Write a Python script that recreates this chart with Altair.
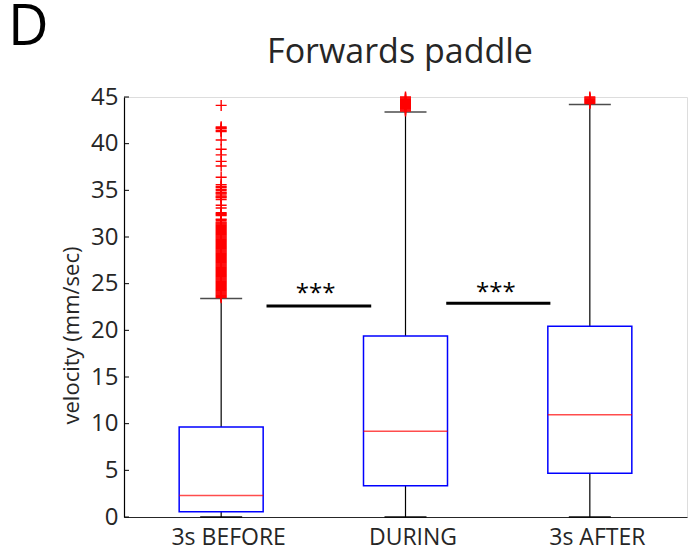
import altair as alt
import pandas as pd

# --- data -------------------------------------------------------------
groups = ["3s BEFORE", "DURING", "3s AFTER"]
positions = [1, 2, 3]

q1 = [0.55, 3.35, 4.7]
median = [2.3, 9.2, 10.95]
q3 = [9.65, 19.4, 20.45]
whisker_low = [0.0, 0.0, 0.0]
whisker_high = [23.4, 43.4, 44.2]

before_outliers = [
    44.1, 41.8, 41.7, 41.6, 41.4, 41.3, 40.4, 39.4, 38.8, 38.1, 37.6, 36.4,
    35.6, 35.4, 35.3, 35.1, 35.0, 34.8, 34.7, 34.6, 34.4, 34.3, 34.2, 34.0,
    33.4, 33.1, 32.6, 32.5, 32.4, 32.3, 31.9, 31.8, 31.6, 31.5, 31.4, 31.3,
    31.2, 31.1, 31.0, 30.9, 30.8, 30.7, 30.6, 30.5, 30.4, 30.3, 30.2, 30.1,
    30.0, 29.9, 29.8, 29.7, 29.6, 29.5, 29.4, 29.3, 29.2, 29.1, 29.0, 28.9,
    28.8, 28.7, 28.6, 28.5, 28.4, 28.3, 28.2, 28.1, 28.0, 27.9, 27.8, 27.7,
    27.6, 27.5, 27.4, 27.3, 27.2, 27.1, 27.0, 26.9, 26.8, 26.7, 26.6, 26.5,
    26.4, 26.3, 26.2, 26.1, 26.0, 25.9, 25.8, 25.7, 25.6, 25.5, 25.4, 25.3,
    25.2, 25.1, 25.0, 24.9, 24.8, 24.7, 24.6, 24.5, 24.4, 24.3, 24.2, 24.1,
    24.0, 23.9, 23.8, 23.7, 23.6, 23.5,
]
during_outliers = [43.5, 43.6, 43.7, 43.8, 43.9, 44.0, 44.1, 44.2,
                   44.3, 44.4, 44.5, 44.6, 44.7, 44.8, 44.9, 45.0]
after_outliers = [44.3, 44.4, 44.5, 44.6, 44.7, 44.8, 44.9, 45.0]

# significance brackets between neighbouring groups
sig_x_start = [1.246, 2.221]
sig_x_end = [1.814, 2.786]
sig_y = [22.6, 22.9]
sig_label_x = [1.512, 2.49]
sig_label_y = [24.6, 24.8]
sig_label = ["***", "***"]

y_ticks = [0, 5, 10, 15, 20, 25, 30, 35, 40, 45]

# --- tables -----------------------------------------------------------
boxes = pd.DataFrame({
    "group": groups, "pos": positions, "q1": q1, "median": median,
    "q3": q3, "lo": whisker_low, "hi": whisker_high,
})
outliers = pd.DataFrame({
    "pos": [1] * len(before_outliers) + [2] * len(during_outliers) + [3] * len(after_outliers),
    "value": before_outliers + during_outliers + after_outliers,
})
sig = pd.DataFrame({"x": sig_x_start, "x2": sig_x_end, "y": sig_y,
                    "lx": sig_label_x, "ly": sig_label_y, "label": sig_label})
ticks = pd.DataFrame({"v": y_ticks})

FONT = "Open Sans"
TEXT = "#262626"

label_expr = " : ".join(
    f"datum.value == {p} ? '{g}'" for p, g in zip(positions[:-1], groups[:-1])
) + f" : '{groups[-1]}'"

x_scale = alt.Scale(domain=[0.5, 3.5], nice=False, zero=False)
y_scale = alt.Scale(domain=[0, 45], nice=False)

x_enc = alt.X(
    "pos:Q", scale=x_scale,
    axis=alt.Axis(values=positions, labelExpr=label_expr, title=None, grid=False,
                  tickSize=0, labelPadding=9, labelOffset=7, labelFontSize=23,
                  labelFont=FONT, labelColor=TEXT, domainColor=TEXT,
                  domainWidth=1.2, labelFlush=False),
)
y_enc = alt.Y(
    "q1:Q", scale=y_scale,
    axis=alt.Axis(values=y_ticks, title="velocity (mm/sec)", grid=False,
                  tickSize=0, labelPadding=6, labelFontSize=24, labelFont=FONT,
                  labelColor=TEXT, domainColor="black", domainWidth=1.2,
                  titleFont=FONT, titleFontSize=22, titleFontWeight="normal",
                  titleColor=TEXT, titleX=-46, titleY=238,
                  titleBaseline="alphabetic", labelFlush=False),
)

base = alt.Chart(boxes)

whisker_up = base.mark_rule(color="black", strokeWidth=1.2).encode(
    x=x_enc, y=alt.Y("q3:Q", scale=y_scale), y2="hi:Q")
whisker_down = base.mark_rule(color="black", strokeWidth=1.2).encode(
    x="pos:Q", y=alt.Y("lo:Q", scale=y_scale), y2="q1:Q")
cap_hi = base.mark_tick(orient="horizontal", size=42, thickness=1.5, color="black").encode(
    x="pos:Q", y=alt.Y("hi:Q", scale=y_scale))
cap_lo = base.mark_tick(orient="horizontal", size=42, thickness=2, color="black").encode(
    x="pos:Q", y=alt.Y("lo:Q", scale=y_scale))
box = base.mark_bar(size=84, fill="white", stroke="#0000ff", strokeWidth=1.5).encode(
    x="pos:Q", y=y_enc, y2="q3:Q")
med = base.mark_tick(orient="horizontal", size=84, thickness=1.5, color="#ff0000").encode(
    x="pos:Q", y=alt.Y("median:Q", scale=y_scale))

out_pts = alt.Chart(outliers).mark_point(
    shape="M-1,0L1,0M0,-1L0,1", size=121, filled=False, color="#ff0000",
    strokeWidth=1.4, opacity=1,
).encode(x="pos:Q", y=alt.Y("value:Q", scale=y_scale))

sig_bars = alt.Chart(sig).mark_rule(color="black", strokeWidth=3).encode(
    x=alt.X("x:Q", scale=x_scale), x2="x2:Q", y=alt.Y("y:Q", scale=y_scale))
sig_text = alt.Chart(sig).mark_text(
    font=FONT, fontSize=24, color="black", baseline="middle", dy=7,
).encode(x=alt.X("lx:Q", scale=x_scale), y=alt.Y("ly:Q", scale=y_scale), text="label:N")

# inward tick marks on the y axis
y_tick_marks = alt.Chart(ticks).mark_rule(color="black", strokeWidth=1).encode(
    x=alt.value(0), x2=alt.value(5), y=alt.Y("v:Q", scale=y_scale))

title = alt.Chart(pd.DataFrame({"t": ["Forwards paddle"]})).mark_text(
    font=FONT, fontSize=34, color=TEXT, align="center", baseline="alphabetic",
).encode(text="t:N", x=alt.value(276), y=alt.value(-34))
panel = alt.Chart(pd.DataFrame({"t": ["D"]})).mark_text(
    font=FONT, fontSize=56, color="black", align="left", baseline="alphabetic",
).encode(text="t:N", x=alt.value(-116), y=alt.value(-52))

chart = alt.layer(
    whisker_up, whisker_down, box, med, cap_hi, cap_lo, out_pts,
    sig_bars, sig_text, y_tick_marks, title, panel,
).properties(
    width=563, height=420,
    padding={"left": 124, "top": 97, "right": 2, "bottom": 38},
    autosize=alt.AutoSizeParams(type="none"),
).configure_view(stroke=None).configure(background="white")

chart.save("out.html", embed_options={"renderer": "svg", "actions": False})
